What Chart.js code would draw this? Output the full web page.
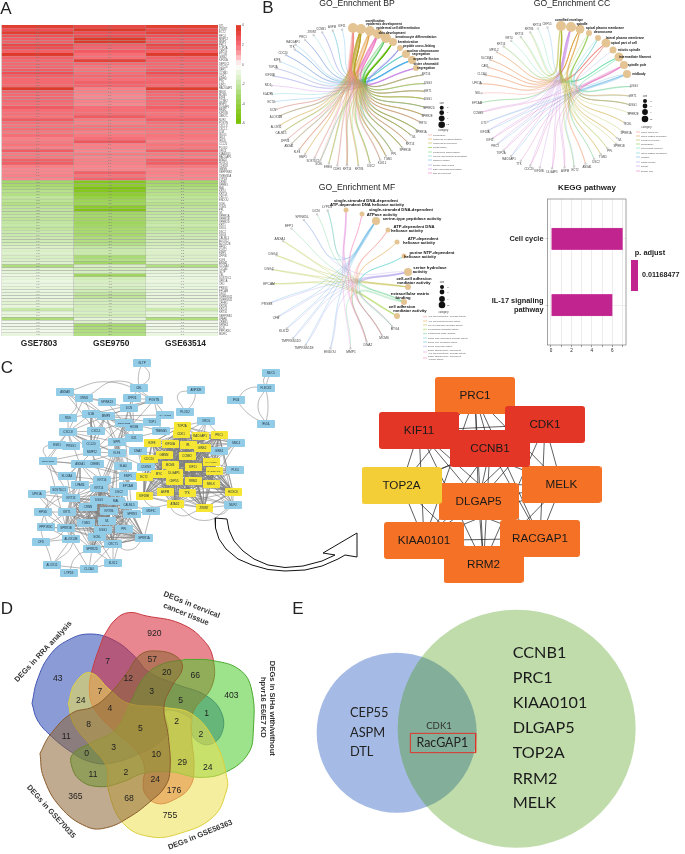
<!DOCTYPE html>
<html><head><meta charset="utf-8">
<script src="https://cdn.jsdelivr.net/npm/chart.js@4"></script>
<style>
html,body{margin:0;padding:0;background:#fff;width:685px;height:854px;overflow:hidden}
canvas{position:absolute}
</style></head><body>
<script>
/* ---------- A: heatmap ---------- */
const heatGenes = ['DTL','ZWINT','ECT2','RFC4','MMP12','MMP1','PRC1','TOP2A','CEP55','PTTG1','GINS2','KIF20A','DEPDC1','CDC20','SPP1','CCNB1','CDK1','ASPM','TTK','KIF11','RAD51AP1','MELK','MCM6','E2F8','CCNE2','MMP3','DLGAP5','RRM2','KIF18B','UBE2C','NUF2','POSTN','CXCL8','CXCL1','IL1B','ISG15','IFI44','IFI44L','CCL20','PLOD2','ORC6','KIAA0101','RACGAP1','ATAD2','HOXC6','CDKN3','GMNN','SERPINB2','TMEM45A','LYPD3',
 'CRNN','SPRR3','MAL','KRT4','KRT13','CRCT1','ENDOU','SCEL','TGM1','PPL','IVL','SPRR1A','SPRR1B','SPRR2D','KRT1','DSG1','DSC2','DSG3','CALML5','ALOX12','ALOX12B','HPGD','KLK12','EMP1','ZFP36','KLF4','ANXA1','SLC6A4','CLCA4','GLTP','CEL','SOSTDC1','UPK1A','CFD','PRSS3','EPCAM','DSG2','TMPRSS11D','TMPRSS11E','CFHR1','KRT86','KRT14','KRT16','SERPINB1','LPAR6','CREB5','SPINK5','DCN','PPP1R3C','MDFIC'];
const GSE7803 = [3.6,3.0,3.5,2.9,2.5,2.4,3.2,3.0,2.4,3.9,2.4,2.2,2.2,2.2,2.5,3.0,2.4,2.2,2.2,2.2,3.8,2.3,2.2,2.2,2.2,2.0,2.6,2.0,2.0,1.9,2.6,2.0,1.9,2.0,1.8,2.0,1.7,1.8,1.9,1.7,2.6,1.8,1.8,2.4,2.5,1.7,1.6,1.6,1.7,1.6,
 -3.2,-3.0,-2.8,-2.5,-2.6,-2.2,-2.3,-2.6,-2.3,-2.2,-2.2,-2.1,-2.3,-2.1,-2.0,-2.2,-1.9,-1.9,-1.8,-1.7,-1.6,-1.3,-1.3,-1.2,-1.4,-1.3,-1.2,-2.8,-1.1,-1.0,-0.7,-0.9,-0.7,-0.7,-0.9,-0.8,-0.9,-0.8,-0.9,-1.1,-0.9,-2.0,-0.8,-0.9,-2.8,-0.5,-0.6,-0.6,-0.5,-0.8];
const GSE9750 = [3.2,4.0,3.0,3.0,3.9,3.9,2.4,2.3,2.6,2.0,2.0,3.4,2.1,1.9,1.9,2.0,2.2,2.0,2.4,2.3,1.7,1.7,1.6,1.6,1.7,1.6,2.0,2.0,2.0,2.6,1.8,1.7,1.9,1.9,1.7,1.8,2.0,2.8,1.7,1.7,1.6,1.8,1.6,1.7,1.7,1.6,1.6,2.4,1.9,2.3,
 -5.0,-4.5,-5.5,-5.0,-4.4,-4.0,-3.6,-3.5,-4.6,-5.4,-3.2,-3.1,-3.3,-3.4,-3.2,-3.0,-3.0,-3.1,-2.8,-2.7,-2.6,-2.1,-1.9,-1.9,-2.9,-2.6,-3.2,-1.4,-1.6,-1.5,-3.4,-1.6,-1.4,-1.3,-1.5,-1.7,-2.2,-2.3,-1.6,-1.5,-1.6,-1.5,-1.4,-1.6,-1.0,-1.3,-3.0,-2.8,-2.7,-2.6];
const GSE63514 = [3.5,3.1,3.4,2.9,2.5,2.4,3.2,2.9,2.5,3.8,2.4,2.3,2.2,2.1,2.5,3.0,2.4,2.2,2.3,2.1,3.7,2.3,2.1,2.2,2.2,2.1,2.5,2.0,1.9,2.0,2.6,2.0,1.9,1.9,1.8,1.9,1.8,1.7,1.9,1.8,2.5,1.8,1.7,2.4,2.5,1.8,1.6,1.7,1.6,1.6,
 -3.3,-3.0,-2.7,-2.6,-2.5,-2.3,-2.2,-2.5,-2.3,-2.1,-2.2,-2.0,-2.2,-2.1,-1.9,-2.2,-2.0,-1.8,-1.8,-1.6,-1.6,-1.4,-1.2,-1.3,-1.3,-1.2,-1.3,-2.7,-1.0,-0.9,-0.7,-0.8,-0.7,-0.8,-0.8,-0.9,-0.8,-0.9,-0.8,-1.0,-0.9,-1.9,-0.9,-0.8,-2.7,-0.6,-0.5,-0.7,-0.4,-0.7];
const heatColumns = ['GSE7803','GSE9750','GSE63514'];
const legendTicks = [4,2,0,-2,-4,-6];
const legendLevels = [3.5,3,2.5,2,1.5,1,.5,0,-.5,-1,-1.5,-2,-2.5,-3,-3.5,-4,-4.5,-5,-5.5,-6];

/* ---------- B: KEGG ---------- */
const keggTerms = ['IL-17 signaling pathway','Cell cycle'];
const keggCounts = [6,7];

/* ---------- B: gene-concept networks (name, x, y, linked term indexes) ---------- */
const bpTerms = [['cornification',353,28,5,'#f08a85',375,21],['epidermis development',361,29,5,'#b8a020',384,24],['epidermal cell differentiation',370,31,5,'#e09430',398,28],['skin development',378,34,5,'#e855b0',392,33],['keratinocyte differentiation',386,38,5,'#58c860',416,37],['keratinization',393,42,4,'#5cb800',408,42],['peptide cross-linking',400,48,3,'#8c8ee8',419,46],['nuclear chromosome',406,54,4,'#55c8c8',423,51],['organelle fission',412,60,4,'#40a8e8',426,59],['sister chromatid',416,68,3,'#c078e0',426,64]];
const bpExtra = [['segregation',421,54],['segregation',426,68]];
const bpLegendNames = ['cornification','epidermal cell differentiation','epidermis development','keratinization','keratinocyte differentiation','nuclear chromosome segregation','organelle fission','peptide cross-linking','sister chromatid segregation','skin development'];
const bpGenes = [['KIF11',342,26,[8]],['ASPM',332,27,[8,7]],['CCNB1',321,29,[8,9]],['ZWINT',312,32,[7]],['PRC1',303,37,[8,7,9]],['RACGAP1',293,42,[8]],['TTK',292,47,[7,9,8]],['CDC20',283,53,[7,8,9]],['E2F8',277,60,[8]],['TOP2A',273,67,[7,9]],['KIF18B',270,75,[8,9]],['NID1',268,85,[9]],['SLA2P5',268,94,[7]],['ECT2',271,102,[8]],['DCN',273,110,[1,3]],['ALOX12B',276,117,[1,3,4]],['ALOX12',276,127,[1,2]],['CALML5',281,133,[1,2,4]],['ZFP36',285,141,[1,3]],['ANXA1',289,146,[1,3,4]],['KLF4',297,152,[1,2,3]],['EMP1',303,157,[1,2]],['SOSTDC1',313,161,[1,3]],['SCEL',319,164,[0,5,6]],['EREG',328,167,[1,2,4]],['CDH3',337,169,[1,3]],['KRT14',347,169,[0,5,1,3]],['KRT86',359,169,[0,5,1]],['DSC2',371,166,[0,5,2,4]],['KLK12',382,163,[0,5,3]],['TGM1',388,159,[0,5,6,1,2]],['PPL',394,154,[0,5,6,1,4]],['SPRR1B',405,150,[0,5,6,1,2,4]],['KRT13',410,144,[0,5,1,3]],['IVL',414,137,[0,5,6,1,2,4]],['SPRR1A',421,132,[0,5,6,1,2,4]],['KRT4',423,123,[0,5,1,3]],['SPRR2E',427,116,[0,5,6,1,2]],['SPRR2D',429,108,[0,5,6,1,4]],['DSG1',428,99,[0,5,1,2,4]],['KRT1',428,91,[0,5,1,3,4]],['DSG3',428,83,[0,5,1,4]],['KRT16',426,74,[0,5,1,3,4]]];
const ccTerms = [['cornified envelope',561,26,5,'#a8b020',569,20],['spindle',571,27,5,'#c080e0',582,24],['apical plasma membrane',580,29,4.5,'#d89020',605,28],['desmosome',589,33,3,'#80c030',603,32],['lateral plasma membrane',598,38,3,'#50c8c8',625,38],['apical part of cell',606,43,4.5,'#f07870',624,43],['mitotic spindle',613,50,3.5,'#9898e8',629,50],['intermediate filament',619,57,4.5,'#58d8a0',635,57],['spindle pole',624,65,4,'#e060b8',637,65],['midbody',627,74,4,'#50a8e0',639,74]];
const ccLegendNames = ['apical part of cell','apical plasma membrane','cornified envelope','desmosome','intermediate filament','lateral plasma membrane','midbody','mitotic spindle','spindle','spindle pole'];
const ccGenes = [['CEP55',547,24,[9]],['KRT14',537,25,[7]],['KRT86',529,29,[7,0]],['KRT13',519,34,[7,0]],['KRT4',509,38,[7]],['KRT16',501,44,[7,0]],['MPZL2',494,50,[5,2]],['SLC39A1',487,58,[5,2]],['CAV1',485,66,[2,5]],['CLCA4',482,74,[2,5]],['UPK1A',477,83,[2,5]],['NKL',478,93,[5]],['EPCAM',477,103,[4,3]],['CCNB1',478,113,[1,8]],['DTL',484,123,[9,6]],['KIF20A',485,132,[9,1]],['KIF11',490,140,[1,8]],['PRC1',495,146,[1,9]],['TOP2A',501,153,[8,1]],['RACGAP1',509,159,[1,9]],['TTK',519,164,[8]],['CDC20',529,169,[1,8]],['KIF18B',539,171,[1]],['DLGAP5',552,172,[1,8]],['ASPM',565,171,[1,8]],['ECT2',575,170,[9,3]],['ANXA1',587,167,[2,5]],['DSC2',596,162,[3,4]],['TGM1',603,157,[0,2]],['PPL',610,151,[0,3]],['SPRR1B',619,146,[0]],['IVL',620,140,[0,2]],['SPRR1A',626,133,[0]],['SCEL',628,124,[0,2]],['SPRR2E',633,114,[0]],['DSG1',633,105,[3,4,0,5]],['KRT1',633,96,[7,0,5]],['DSG3',634,86,[3,4,7]]];
const mfTerms = [['',346,210,2.5,'#e080d8'],['',362,214,2.5,'#f060a8'],['serine-type peptidase activity',376,221,4,'#48a8e0',412,219],['',388,230,2.5,'#f88880'],['',397,242,2.5,'#e09830'],['',404,256,2.5,'#50d0c8'],['',408,272,4,'#a898e8'],['',408,287,3,'#b8b020'],['',404,302,3,'#50c878'],['',397,316,3,'#90c820']];
const mfWrapped = [['single-stranded DNA-dependent',366,201],['ATP-dependent DNA helicase activity',367,205],['single-stranded DNA-dependent',401,210],['ATPase activity',382,215],['ATP-dependent DNA',414,227],['helicase activity',407,231],['ATP-dependent',423,239],['helicase activity',419,243],['purine NTP-dependent',432,253],['helicase activity',420,257],['serine hydrolase',430,268],['activity',420,272],['cell-cell adhesion',414,279],['mediator activity',414,283],['extracellular matrix',410,294],['binding',403,298],['cell adhesion',402,307],['mediator activity',410,311]];
const mfLegendNames = ['ATP-dependent DNA helicase activity','ATP-dependent helicase activity','cell-cell adhesion mediator activity','cell adhesion mediator activity','extracellular matrix binding','purine NTP-dependent helicase activity','serine-type peptidase activity','serine hydrolase activity','single-stranded DNA-dependent\nATP-dependent DNA helicase activity','single-stranded DNA-dependent\nATPase activity'];
const mfGenes = [['LYPD3',327,207,[2,8]],['DCN',316,211,[8]],['SPINK5L',302,217,[2,6]],['EFP1',289,226,[8]],['ANXA1',280,239,[7,9]],['DSG3',273,254,[7,9]],['DSG2',269,269,[7,9]],['EPCAM',269,284,[7,9]],['PRSS3',267,304,[2,6]],['CFB',276,318,[2,6]],['KLK12',284,331,[2,6]],['TMPRSS11D',291,341,[2,6]],['TMPRSS11E',304,348,[2,6]],['ENDOU',330,352,[2,6]],['MMP1',351,352,[8,0]],['DNA2',368,345,[0,1,3,4,5]],['MCM6',384,338,[0,1,3,4,5]],['BTG4',395,329,[0,3,5,8]]];

/* ---------- C: protein network (name, x, y) ---------- */
const blueNodes = [['GLTP',142,363],['CEL',139,388],['ANXA8',65,392],['ORM1',84,398],['SPINK13',107,402],['ZFP36',132,398],['POSTN',154,400],['ANP32E',196,390],['PLOD2',185,412],['ORC6',206,421],['DCN',129,408],['HLA-DQB1',165,415],['IL1B',91,414],['MMP3',106,416],['SERPINB2',124,423],['TOP1',152,422],['RDS',68,418],['HOXB',134,427],['TMEM45',161,431],['CXCL8',68,432],['CXCL1',96,431],['IDI1',134,438],['ESR1',57,445],['PRSS1',71,446],['CCL20',91,444],['SPP1',117,442],['SERPINB1',48,461],['MMP12',92,452],['KLF4',117,453],['DNA2',138,451],['ANXA1',80,464],['CREB5',95,464],['CDKN3',146,467],['SLA4',123,466],['SLC6A4',67,476],['EMP1',128,476],['KRT16',102,480],['LPAR6',80,485],['EPCAM',128,486],['KRT14',99,488],['SOSTDC1',59,490],['UPK1A',37,494],['KRT13',71,498],['DSC2',119,492],['DSG3',99,500],['MAL',116,501],['CALML5',129,505],['CRNN',88,507],['HPGD',43,512],['KRT1',67,512],['KRT86',109,511],['SPRR3',132,514],['MDFIC',151,511],['IVL',107,521],['TGM1',86,523],['PPP1R3C',46,527],['SPRR1B',66,528],['DSG1',103,530],['PPL',124,529],['CFD',41,542],['ALOX12B',71,539],['SCEL',97,537],['CRCT1',113,544],['SPRR1A',144,538],['SPRR2D',92,549],['ALOX12',52,565],['CLCA4',89,569],['KLK12',113,563],['LYPD3',69,573],['SMC4',236,443],['GINS1',219,451],['PLK4',235,470],['NUF2',233,505],['IFI44',236,400],['FLECK2',266,388],['IFI44L',266,424],['MUC5',271,373]];
const yellowNodes = [['TOP2A',182,426],['CDK1',181,434],['RACGAP1',200,436],['PRC1',219,435],['E2F8',152,443],['KIF20A',170,444],['IPL',188,445],['GINS2',202,448],['GMNN',164,455],['CCNE2',187,456],['CDC20',149,459],['MCM6',170,465],['KIF11',193,467],['KIAA0101',211,462],['RAD51AP1',214,471],['ECT2',144,477],['MYC',159,474],['DLGAP5',174,473],['CEP55',174,481],['RRM2',193,481],['MELK',211,484],['HOXC6',233,492],['KIF18B',144,496],['ASPM',165,492],['TTK',187,493],['ATAD2',175,504],['ZWINT',204,508]];
const epidermalGroup = ['IVL','TGM1','SPRR1B','DSG1','PPL','SCEL','CRCT1','SPRR1A','KRT1','KRT86','DSG3','MAL','CALML5','SPRR3','CRNN','KRT13','KRT14','KRT16','DSC2','SPRR2D'];
const hubEdges = [['CXCL8','IL1B CXCL1 MMP3 CCL20 SPP1 PRSS1 ESR1 MMP12 CDKN3 KLF4 ANXA1 RDS'],['IL1B','MMP3 SERPINB2 CXCL1 CCL20 MMP12 SPP1 HOXB TMEM45 IDI1 RDS POSTN'],['MMP3','SERPINB2 MMP12 SPP1 POSTN HLA-DQB1 TOP1 CXCL1 CCL20 IDI1 KLF4 DCN'],['MMP12','SPP1 CCL20 CXCL1 KLF4 ANXA1 CREB5 SLA4 KRT16'],['SPP1','POSTN TOP2A IDI1 HOXB KLF4 DNA2 EMP1 EPCAM'],['ANXA1','KRT16 KRT14 EMP1 LPAR6 SLC6A4 KRT13 SPRR1B KLF4 SERPINB1 CREB5'],['EMP1','KRT16 KRT14 EPCAM DSC2 KLF4 CREB5'],['KLF4','EPCAM KRT14 DSG3 CALML5 IVL ZFP36 MAL'],['SERPINB2','KRT16 MMP12 SPRR3 IVL CXCL1 HOXB DSG3'],['SERPINB1','CXCL8 KRT13 SPRR1B ANXA1 MMP12'],['ALOX12B','ALOX12 CFD CLCA4 LPAR6 KRT13 PPP1R3C SPRR1B KRT1'],['CLCA4','SPRR2D KLK12 CRCT1 ALOX12'],['KLK12','SPRR2D CRCT1 SCEL'],['UPK1A','KRT13 SOSTDC1 KRT1 SPRR1B'],['SOSTDC1','KRT13 LPAR6 HPGD'],['HPGD','KRT1 SPRR1B'],['PPP1R3C','SPRR1B KRT1'],['SPRR1A','SPRR3 MDFIC IVL PPL DSG1 SCEL CRCT1'],['MDFIC','SPRR3 CALML5'],['LPAR6','KRT14 KRT13 KRT16'],['SLC6A4','KRT13 KRT16'],['SPINK13','ANXA8 ORM1 DCN SERPINB2'],['ANXA8','ORM1 CXCL1 MMP3'],['ORM1','IL1B MMP3 CXCL8'],['ZFP36','DCN POSTN HOXB'],['POSTN','DCN HLA-DQB1 TMEM45'],['DCN','IDI1 HOXB SERPINB2'],['CEL','ZFP36'],['CDKN3','TOP2A CDK1 CDC20 ECT2 MCM6 DNA2 KIF18B'],['DNA2','TOP2A CDK1 E2F8 CDC20 MCM6 ECT2 GMNN'],['ORC6','TOP2A CDK1 RACGAP1 PRC1 IPL GINS2'],['SMC4','PRC1 RACGAP1 KIF11 KIAA0101 MELK RRM2 GINS2 CDK1 TOP2A IPL'],['GINS1','PRC1 KIF11 KIAA0101 RAD51AP1 MELK CCNE2 RRM2 CDK1 MCM6 TOP2A'],['PLK4','KIF11 KIAA0101 RAD51AP1 MELK RRM2 DLGAP5 CEP55 CDC20 TTK ASPM'],['NUF2','HOXC6 MELK ZWINT RRM2 KIF11 PRC1 TTK ASPM KIAA0101 CDK1 GINS2'],['HOXC6','MELK RRM2 KIF11 CCNE2 TOP2A ZWINT PRC1 ASPM']];
const curvedEdges = [['GLTP','CEL',-9],['GLTP','CEL',2],['ANP32E','PLOD2',14],['ANP32E','PLOD2',-3],['IFI44','FLECK2',-6],['IFI44','IFI44L',3],['FLECK2','IFI44L',-2],['FLECK2','IFI44L',8],['FLECK2','MUC5',-5],['FLECK2','MUC5',-1],['ANXA8','RDS',-10],['ANXA8','POSTN',-14],['ORM1','POSTN',-18],['ATAD2','NUF2',16],['ZWINT','NUF2',8],['NUF2','HOXC6',-12],['ASPM','ZWINT',16],['ECT2','ATAD2',18],['SPRR1A','KRT16',-24],['SPRR1A','DSG3',-16],['SPRR1A','CRCT1',-9],['SPRR1A','KRT14',-30],['CFD','KRT1',10],['ALOX12','KRT1',14],['ESR1','SERPINB1',10],['SERPINB1','ANXA1',14],['ESR1','SLC6A4',16],['ALOX12','LPAR6',-24],['UPK1A','HPGD',-8],['LYPD3','SPRR2D',-6],['KLK12','SPRR1A',-10],['HPGD','SPRR1B',7]];
const hubNodes = [['PRC1',475,395.5,'#f57125'],['RRM2',483.5,564.5,'#f57125'],['KIAA0101',424,540.5,'#f57125'],['RACGAP1',540,538.5,'#f57125'],['DLGAP5',478.5,501.5,'#f57125'],['MELK',561.5,484.5,'#f57125'],['TOP2A',401.5,485.5,'#f4ce37'],['KIF11',419,430.5,'#e33626'],['CDK1',545,424.5,'#e33626'],['CCNB1',490,448.5,'#e33626']];
const arrowShape = [[215,518],[215.5,528],[219,539],[226,549],[238,559],[252,565],[268,569.5],[285,571],[305,570],[322,566],[338,559],[345,555],[357,557],[357,533],[323,553],[335,555],[322,561],[303,566],[285,567.5],[268,565],[254,559],[243,551],[234,541],[229,530],[227,519],[215,518]];

/* ---------- D: five-set Venn (outlines and counts) ---------- */
const vennBlue = [[96,340],[112,270],[150,195],[205,150],[270,132],[340,150],[400,195],[445,245],[530,283],[620,318],[665,370],[665,430],[630,463],[590,452],[573,420],[573,385],[495,362],[505,420],[480,455],[420,490],[330,520],[270,515],[215,487],[150,435],[112,390],[96,340]];
const vennRed = [[310,140],[345,90],[385,68],[440,78],[540,100],[610,150],[640,210],[635,290],[580,365],[575,440],[582,530],[570,590],[520,630],[470,640],[435,610],[430,570],[435,540],[415,490],[340,420],[282,355],[268,300],[278,235],[310,140]];
const vennGreen = [[560,208],[480,225],[430,265],[395,330],[345,420],[270,460],[220,490],[213,520],[240,570],[300,590],[370,575],[430,550],[510,545],[600,562],[680,545],[745,490],[760,420],[755,300],[720,240],[640,212],[560,208]];
const vennYellow = [[205,340],[225,280],[270,248],[330,300],[385,340],[490,352],[580,375],[650,465],[680,560],[680,600],[640,680],[540,730],[450,740],[370,700],[325,600],[320,530],[270,465],[220,400],[205,340]];
const vennBrown = [[120,490],[130,560],[180,650],[260,710],[320,713],[390,680],[450,635],[495,590],[510,540],[505,440],[492,350],[515,290],[547,235],[530,200],[470,183],[420,195],[380,250],[330,310],[280,350],[215,370],[150,435],[120,490]];
const vennCounts = [['920',463,132],['43',173,265],['403',694,317],['365',226,619],['755',510,676],['7',323,216],['57',457,208],['20',500,248],['66',586,258],['12',385,265],['7',300,304],['24',242,331],['3',455,306],['5',542,332],['1',620,372],['4',330,356],['8',266,405],['5',421,415],['2',530,395],['2',603,435],['11',199,440],['3',341,474],['0',260,492],['10',469,495],['29',547,518],['24',623,532],['11',279,553],['2',378,547],['24',466,569],['176',522,601],['68',387,626]];
const vennTitles = [['DEGs in RRA analysis',130,185,-47],['DEGs in cervical',575,45,22],['cancer tissue',558,73,22],['DEGs in SiHa with/without',817,355,90],['hpvr16 E6/E7 KD',788,352,90],['DEGs in GSE70035',153,665,48],['DEGs in GSE56363',601,735,-22]];

/* ---------- E: two-set Venn ---------- */
const setACenter = [335,428], setBCenter = [695,416];
const setARadius = 80, setBRadius = 119;
const setAOnly = [['CEP55',368],['ASPM',428],['DTL',487]];
const setBOnly = [['CCNB1',187],['PRC1',263],['KIAA0101',338],['DLGAP5',412],['TOP2A',489],['RRM2',565],['MELK',638]];
const highlightBox = [[376,430],[572,430],[572,488],[376,488],[376,430]];

/* ---------- helpers ---------- */
const SANS = '"Liberation Sans",Arial,sans-serif';
function heatColor(v){
  const stops=[[4,[222,56,40]],[3.5,[228,62,48]],[3,[238,78,84]],[2,[247,110,118]],[1,[252,170,172]],[0,[255,255,255]],[-1,[228,244,214]],[-2,[198,232,168]],[-3,[168,218,110]],[-4,[150,208,70]],[-5,[134,199,27]],[-6,[120,192,0]]];
  for(let i=0;i<stops.length-1;i++){const [a,ca]=stops[i],[b,cb]=stops[i+1];
    if(v<=a&&v>=b){const t=(a-v)/(a-b);return 'rgb('+ca.map((c,k)=>Math.round(c+(cb[k]-c)*t)).join(',')+')';}}
  return v>0?'rgb(222,56,40)':'rgb(120,192,0)';
}
function makeCanvas(l,t,w,h){const c=document.createElement('canvas');c.width=w;c.height=h;c.style.left=l+'px';c.style.top=t+'px';c.style.width=w+'px';c.style.height=h+'px';document.body.appendChild(c);return c;}
function labelPlugin(items){return {id:'labels'+Math.random(),afterDatasetsDraw(ch){const g=ch.ctx;
  items.forEach(l=>{g.save();g.translate(ch.scales.x.getPixelForValue(l.x),ch.scales.y.getPixelForValue(l.y));if(l.rot)g.rotate(l.rot*Math.PI/180);
    g.font=l.font;g.fillStyle=l.color||'#222';g.textAlign=l.align||'center';g.textBaseline='middle';g.fillText(l.t,0,0);g.restore();});}};}
function plane(rect,xMax,yMax,datasets,labels){
  datasets.forEach((d,i)=>{d.order=-i;});
  return new Chart(makeCanvas(...rect),{type:'scatter',data:{datasets},options:{responsive:false,animation:false,events:[],
    layout:{padding:0,autoPadding:false},plugins:{legend:{display:false},tooltip:{enabled:false}},
    scales:{x:{type:'linear',min:0,max:xMax,display:false},y:{type:'linear',min:0,max:yMax,reverse:true,display:false}}},plugins:[labelPlugin(labels)]});
}
const P=a=>a.map(p=>({x:p[0],y:p[1]}));

/* ---------- A: heatmap chart ---------- */
const heatSeries=[GSE7803,GSE9750,GSE63514];
new Chart(makeCanvas(0,0,232,352),{type:'bar',
  data:{labels:heatGenes,datasets:heatSeries.map((s,i)=>({label:heatColumns[i],data:s.map(()=>1),
    backgroundColor:s.map(heatColor),borderColor:'#a4a4a4',borderWidth:.4,borderSkipped:false,barPercentage:1,categoryPercentage:1}))},
  options:{indexAxis:'y',responsive:false,animation:false,events:[],layout:{padding:{left:1.5,top:25}},plugins:{legend:{display:false},tooltip:{enabled:false}},
    scales:{
      x:{stacked:true,min:0,max:3,grid:{display:false,drawTicks:false},border:{display:false},
         afterBuildTicks:a=>{a.ticks=[{value:.52},{value:1.52},{value:2.55}];},
         ticks:{callback:v=>heatColumns[Math.floor(v)],font:{family:SANS,size:8.4,weight:'bold'},color:'#222',padding:3,maxRotation:0,autoSkip:false},
         afterFit:s=>{s.height=16;}},
      y:{stacked:true,position:'right',grid:{display:false,drawTicks:false},border:{display:false},
         ticks:{autoSkip:false,font:{family:SANS,size:2.6},color:'#555',padding:1},afterFit:s=>{s.width=14;}}
    }},
  plugins:[{id:'cellText',afterDatasetsDraw(ch){const g=ch.ctx;g.save();g.font='2.4px '+SANS;g.fillStyle='#777';g.textAlign='center';g.textBaseline='middle';
    heatSeries.forEach((s,d)=>{ch.getDatasetMeta(d).data.forEach((el,i)=>{const c=el.getCenterPoint();g.fillText(s[i].toFixed(1),c.x,c.y);});});g.restore();}}]
});

/* colour key */
new Chart(makeCanvas(230,15,25,120),{type:'bar',
  data:{labels:[''],datasets:legendLevels.map(v=>({data:[[v,v+.5]],backgroundColor:heatColor(v+.25),borderWidth:0,grouped:false,barPercentage:1,categoryPercentage:1}))},
  options:{responsive:false,animation:false,events:[],layout:{padding:{left:6,top:8,bottom:9}},plugins:{legend:{display:false},tooltip:{enabled:false}},
    scales:{x:{display:false},
      y:{position:'right',min:-6.25,max:4.25,grid:{display:false,drawTicks:false},border:{display:false},afterBuildTicks:a=>{a.ticks=legendTicks.map(v=>({value:v}));},
         ticks:{font:{family:SANS,size:3},color:'#444',padding:1,autoSkip:false},afterFit:s=>{s.width=14;}}}}});

/* ---------- B: KEGG chart ---------- */
new Chart(makeCanvas(480,180,205,180),{type:'bar',
  data:{datasets:[{data:keggCounts.map((c,i)=>({x:c,y:i+1})),backgroundColor:'#c2248f',borderColor:'#d24aa6',borderWidth:.6,barThickness:21.5}]},
  options:{indexAxis:'y',responsive:false,animation:false,events:[],layout:{padding:{top:19,right:59}},plugins:{legend:{display:false},tooltip:{enabled:false}},
    scales:{
      x:{type:'linear',min:-.34,max:7.34,grid:{color:'#ececec',lineWidth:1,tickLength:2,tickColor:'#999'},border:{display:false},
         afterBuildTicks:a=>{a.ticks=[0,1,2,3,4,5,6,7].map(v=>({value:v}));},
         ticks:{callback:v=>v%2===0&&v<7?String(v):'',font:{family:SANS,size:4.6},color:'#222',padding:1,autoSkip:false,maxRotation:0},afterFit:s=>{s.height=15;}},
      y:{type:'linear',offset:false,min:.4,max:2.6,grid:{offset:false,color:'#eeeeee',tickLength:2,tickColor:'#ccc'},border:{display:false},
         afterBuildTicks:a=>{a.ticks=[{value:1},{value:2}];},
         ticks:{callback:v=>v===1?['IL-17 signaling','pathway']:keggTerms[v-1],font:{family:SANS,size:7.4,weight:'bold'},color:'#222',padding:2,autoSkip:false},afterFit:s=>{s.width=67.5;}}
    }},
  plugins:[{id:'frame',afterDraw(ch){const g=ch.ctx,a=ch.chartArea;g.save();g.strokeStyle='#8a8a8a';g.lineWidth=.8;g.strokeRect(a.left,a.top,a.right-a.left,a.bottom-a.top);g.restore();}}]
});

/* ---------- overlay: B networks, C networks, labels ---------- */
const ds=[], labels=[], geneDots=[];
function text(t,x,y,size,opt){labels.push(Object.assign({t,x,y,font:(opt&&opt.bold?'bold ':'')+size+'px '+SANS,color:opt&&opt.color,align:opt&&opt.align,rot:opt&&opt.rot}));}

function cnet(terms,genes,cx,cy,geneFont,termFont,lineW){
  genes.forEach(g=>{
    const dx=cx-g[1],dy=cy-g[2],L=Math.hypot(dx,dy),px=g[1]+dx/L*3.6,py=g[2]+dy/L*3.6;
    g[3].forEach(ti=>{const t=terms[ti],mx=cx+.34*((px+t[1])/2-cx),my=cy+.34*((py+t[2])/2-cy);
      ds.push({type:'line',data:P([[px,py],[mx,my],[t[1],t[2]]]),borderColor:t[4]+'88',borderWidth:lineW,tension:.5,pointRadius:0,fill:false});});
    text(g[0],g[1],g[2],geneFont,{color:'#444'});
    geneDots.push([px,py]);
  });
  terms.forEach(t=>{if(t[5])text(t[0],t[5],t[6],termFont,{bold:true,color:'#111'});});
}
function termDots(terms){ds.push({data:terms.map(t=>({x:t[1],y:t[2]})),backgroundColor:'#e5c494',borderWidth:0,pointRadius:terms.map(t=>t[3])});}
function catLegend(names,colors,x0,x1,tx,rows,font){names.forEach((n,i)=>{ds.push({type:'line',data:P([[x0,rows[i]],[x1,rows[i]]]),borderColor:colors[i],borderWidth:.5,pointRadius:0});
  const lines=n.split('\n');lines.forEach((ln,k)=>text(ln,tx,rows[i]+(k-(lines.length-1)/2)*2.8,font,{align:'left',color:'#555'}));});}
function sizeLegend(x,ys,rs,sizeY,catY,vals){ds.push({data:ys.map(y=>({x,y})),backgroundColor:'#111',borderWidth:0,pointRadius:rs});
  text('size',x,sizeY,2.6,{color:'#444'});text('category',x+1.5,catY,2.6,{color:'#444'});ys.forEach((y,i)=>text(vals[i],x+6,y,2.4,{color:'#444'}));}

cnet(bpTerms,bpGenes,345,97,2.8,3.2,.55);
cnet(ccTerms,ccGenes,556,98,2.8,3.2,.55);
cnet(mfTerms,mfGenes,340,280,3.3,4.2,.55);
ds.push({data:P(geneDots),pointStyle:'rect',backgroundColor:'#fff',borderColor:'#999',borderWidth:.4,pointRadius:1});
termDots(bpTerms);termDots(ccTerms);termDots(mfTerms);
bpExtra.forEach(e=>text(e[0],e[1],e[2],3.2,{bold:true,color:'#111'}));
mfWrapped.forEach(e=>text(e[0],e[1],e[2],4.2,{bold:true,color:'#111'}));
const bpLegendColors=[0,2,1,5,4,7,8,6,9,3].map(i=>bpTerms[i][4]);
catLegend(bpLegendNames,bpLegendColors,428,432,433,[135,139,143,147.5,152,156,160,165,169,173],2.3);
sizeLegend(441.7,[107.7,112.7,118.3,124.7],[2,2.4,2.9,3.3],103,130.5,['3','6','9','12']);
const ccLegendColors=[5,2,0,3,7,4,9,6,1,8].map(i=>ccTerms[i][4]);
catLegend(ccLegendNames,ccLegendColors,636,640,641,[132,136,140,144,148,153,157,162,166,171],2.3);
sizeLegend(645,[101,106,112,119],[2,2.4,2.9,3.3],96,127,['3','6','9','12']);
const mfLegendColors=[3,4,7,9,8,5,2,6,0,1].map(i=>mfTerms[i][4]);
catLegend(mfLegendNames,mfLegendColors,423,427,428,[316.7,321,325,329.3,333.7,338,342,346.3,352,358],2.3);
sizeLegend(442,[287,292,299,305],[2,2.4,2.9,3.3],282,312,['3','6','9','12']);

/* C network edges */
const allNodes=blueNodes.concat(yellowNodes), pos={};allNodes.forEach(n=>{pos[n[0]]=[n[1],n[2]];});
const edgePts=[];
function edge(a,b){if(pos[a]&&pos[b]){edgePts.push({x:pos[a][0],y:pos[a][1]},{x:pos[b][0],y:pos[b][1]},{x:NaN,y:NaN});}}
const clique=list=>list.forEach((a,i)=>list.slice(i+1).forEach(b=>edge(a,b)));
clique(yellowNodes.map(n=>n[0]));clique(epidermalGroup);
hubEdges.forEach(h=>h[1].split(' ').forEach(b=>edge(h[0],b)));
ds.push({type:'line',data:edgePts,borderColor:'#7d7d7d',borderWidth:.55,pointRadius:0,tension:0,spanGaps:false});
curvedEdges.forEach(e=>{const a=pos[e[0]],b=pos[e[1]];if(!a||!b)return;const mx=(a[0]+b[0])/2,my=(a[1]+b[1])/2,dx=b[0]-a[0],dy=b[1]-a[1],L=Math.hypot(dx,dy)||1;
  ds.push({type:'line',data:P([a,[mx-dy/L*e[2],my+dx/L*e[2]],b]),borderColor:'#8a8a8a',borderWidth:.6,pointRadius:0,tension:.5});});

/* pre-rendered rounded boxes as point styles */
function box(w,h,r,color){const c=document.createElement('canvas');c.width=w;c.height=h;const g=c.getContext('2d');g.fillStyle=color;g.beginPath();g.roundRect(0,0,w,h,r);g.fill();return c;}
const blueBox=box(18,8,1,'#93cce6'), yellowBox=box(17,8,.8,'#f5e633');
ds.push({data:P(blueNodes.map(n=>[n[1],n[2]])),pointStyle:blueBox,pointRadius:4,borderWidth:0});
ds.push({data:P(yellowNodes.map(n=>[n[1],n[2]])),pointStyle:yellowBox,pointRadius:4,borderWidth:0});
blueNodes.concat(yellowNodes).forEach(n=>text(n[0],n[1],n[2],n[0].length>7?2.5:2.9,{color:'#234'}));

/* C enlarged hub network */
const hubEdgePts=[];hubNodes.forEach((a,i)=>hubNodes.slice(i+1).forEach(b=>{hubEdgePts.push({x:a[1],y:a[2]},{x:b[1],y:b[2]},{x:NaN,y:NaN});}));
ds.push({type:'line',data:hubEdgePts,borderColor:'#1c1c1c',borderWidth:.7,pointRadius:0,tension:0});
[...new Set(hubNodes.map(n=>n[3]))].forEach(col=>{const bx=box(80,37,3,col);
  ds.push({data:hubNodes.filter(n=>n[3]===col).map(n=>({x:n[1],y:n[2]})),pointStyle:bx,pointRadius:5,borderWidth:0});});
hubNodes.forEach(n=>text(n[0],n[1],n[2],11.7,{color:'#1a1a1a'}));

/* C arrow */
ds.push({type:'line',data:P(arrowShape),borderColor:'#111',borderWidth:1,backgroundColor:'#fff',fill:'shape',pointRadius:0,tension:0});

/* panel titles */
[['A',6,9],['B',268,8],['C',7,368],['D',7,609],['E',298,609]].forEach(l=>text(l[0],l[1],l[2],17,{color:'#222'}));
text('GO_Enrichment BP',357,4,8.6,{color:'#222'});
text('GO_Enrichment CC',572,4,8.6,{color:'#222'});
text('GO_Enrichment MF',357,188,8.6,{color:'#222'});
text('KEGG pathway',587,188,8,{bold:true,color:'#222'});
text('p. adjust',650,253,7.4,{bold:true,color:'#222'});
text('0.01168477',642,275,7.2,{bold:true,color:'#222',align:'left'});
ds.push({type:'line',data:P([[634.5,260],[634.5,291]]),borderColor:'#c2248f',borderWidth:7,pointRadius:0,borderCapStyle:'butt'});
plane([0,0,685,854],685,854,ds,labels);

/* ---------- D ---------- */
const vStyle=(pts,col,edgeCol)=>({type:'line',data:P(pts),backgroundColor:col,borderColor:edgeCol,borderWidth:1,fill:'shape',tension:.42,pointRadius:0});
plane([0,590,290,264],870,792,[
  vStyle(vennBlue,'rgba(42,73,180,.55)','#4356b4'),
  vStyle(vennRed,'rgba(213,37,51,.55)','#c63a40'),
  vStyle(vennGreen,'rgba(75,204,46,.55)','#4aa82e'),
  vStyle(vennYellow,'rgba(237,224,79,.55)','#dccf3e'),
  vStyle(vennBrown,'rgba(140,100,53,.55)','#8a5c2c')
],vennCounts.map(c=>({t:c[0],x:c[1],y:c[2],font:'8.6px '+SANS,color:'#222'})).concat(
  vennTitles.map(c=>({t:c[0],x:c[1],y:c[2],rot:c[3],font:'bold 7.6px '+SANS,color:'#333'}))));

/* ---------- E ---------- */
const LATO='Lato,"Open Sans",sans-serif';
plane([285,590,400,264],1200,792,[
  {data:[{x:setACenter[0],y:setACenter[1]}],pointRadius:setARadius,backgroundColor:'rgba(142,170,222,.8)',borderWidth:0},
  {data:[{x:setBCenter[0],y:setBCenter[1]}],pointRadius:setBRadius,backgroundColor:'rgba(64,148,0,.33)',borderWidth:0},
  {type:'line',data:P(highlightBox),borderColor:'#e0322c',borderWidth:1,pointRadius:0,tension:0}
],setAOnly.map(c=>({t:c[0],x:195,y:c[1],font:'12.8px '+LATO,color:'#222',align:'left'})).concat(
  setBOnly.map(c=>({t:c[0],x:683,y:c[1],font:'16.2px '+LATO,color:'#1a1a1a',align:'left'})),
  [{t:'CDK1',x:462,y:408,font:'9.6px '+LATO,color:'#333'},{t:'RacGAP1',x:472,y:458,font:'12.4px '+LATO,color:'#222'}]));
</script>
</body></html>
